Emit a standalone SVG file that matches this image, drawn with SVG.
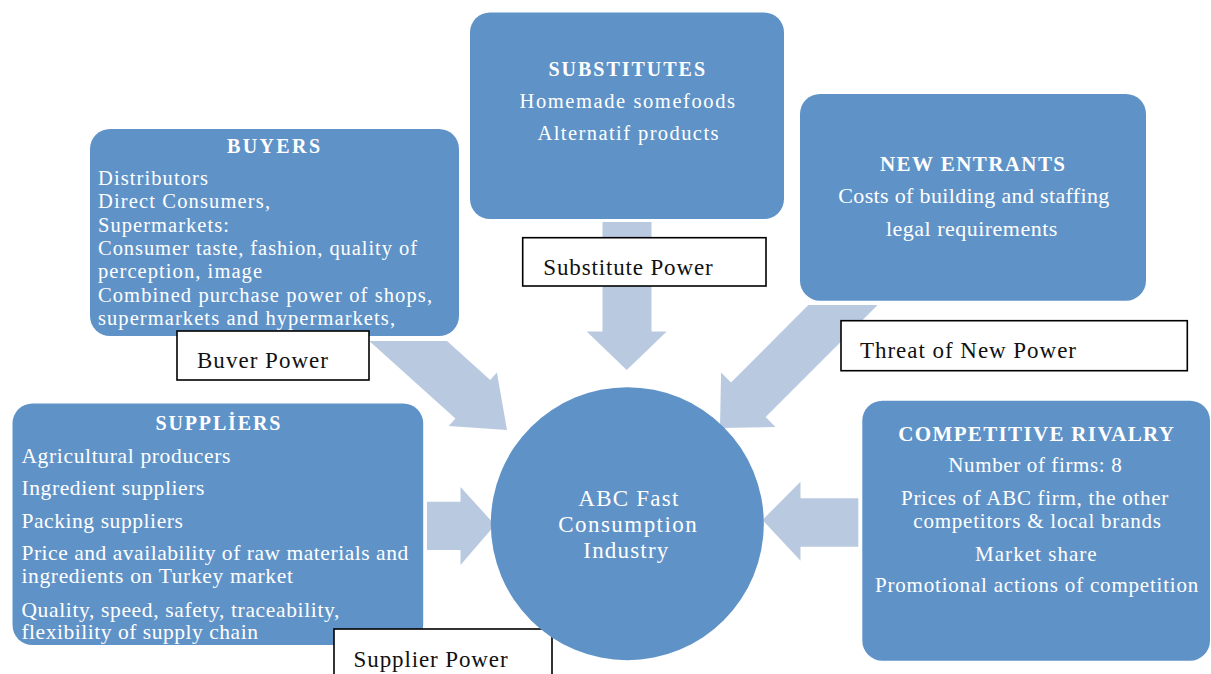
<svg xmlns="http://www.w3.org/2000/svg" width="1211" height="674" viewBox="0 0 1211 674">
<style>
.box{fill:#5f93c8;}
.arr{fill:#b9c9e0;}
.lbl{fill:#ffffff;stroke:#000000;stroke-width:1.6;}
.h{font-family:"Liberation Serif",serif;font-weight:bold;fill:#ffffff;}
.t{font-family:"Liberation Serif",serif;fill:#ffffff;}
.l{font-family:"Liberation Serif",serif;fill:#111111;font-size:23px;}
</style>
<rect width="1211" height="674" fill="#ffffff"/>
<g id="connectors">
<polygon class="arr" points="369.3,341 447,341 490.2,379.9 496.9,372.5 507,430 448.7,425.9 455.4,418.5"/>
<polygon class="arr" points="602.5,222 651.5,222 651.5,331.5 666.7,331.5 626.7,370 586.7,331.5 602.5,331.5"/>
<polygon class="arr" points="808.4,305 877.6,305 765.6,417 775.5,426.9 720,428 721.1,372.5 731,382.4"/>
<polygon class="arr" points="427,501.7 460.5,501.7 460.5,487 495,525 460.5,565 460.5,550 427,550"/>
<polygon class="arr" points="858.3,498.3 800.5,498.3 800.5,481.7 762.5,520 800.5,560.7 800.5,546.7 858.3,546.7"/>
</g>
<g id="buyers">
<rect class="box" x="90" y="129" width="369" height="207" rx="20"/>
<text class="h" font-size="20" x="227" y="153" textLength="93">BUYERS</text>
<text class="t" font-size="20.5" x="98" y="185" textLength="110">Distributors</text>
<text class="t" font-size="20.5" x="98" y="208" textLength="172">Direct Consumers,</text>
<text class="t" font-size="20.5" x="98" y="231.5" textLength="131">Supermarkets:</text>
<text class="t" font-size="20.5" x="98" y="254.5" textLength="319">Consumer taste, fashion, quality of</text>
<text class="t" font-size="20.5" x="98" y="278" textLength="164">perception, image</text>
<text class="t" font-size="20.5" x="98" y="301.5" textLength="334">Combined purchase power of shops,</text>
<text class="t" font-size="20.5" x="98" y="325" textLength="297">supermarkets and hypermarkets,</text>
</g>
<g id="buyer-power">
<rect class="lbl" x="177" y="331" width="192" height="49"/>
<text class="l" x="197" y="368" textLength="131">Buver Power</text>
</g>
<g id="substitutes">
<rect class="box" x="470" y="12.5" width="314" height="206.5" rx="20"/>
<text class="h" font-size="20" x="548.5" y="76" textLength="156.5">SUBSTITUTES</text>
<text class="t" font-size="20.5" x="519.5" y="107.5" textLength="215.5">Homemade somefoods</text>
<text class="t" font-size="20.5" x="537.5" y="140" textLength="181">Alternatif  products</text>
</g>
<g id="substitute-power">
<rect class="lbl" x="522.7" y="237.7" width="243.3" height="48.3"/>
<text class="l" x="543.3" y="275" textLength="169.4">Substitute Power</text>
</g>
<g id="new-entrants">
<rect class="box" x="800" y="94" width="346" height="206.7" rx="20"/>
<text class="h" font-size="21" x="880" y="170.7" textLength="185">NEW ENTRANTS</text>
<text class="t" font-size="22" x="838.3" y="203.3" textLength="271">Costs of building and staffing</text>
<text class="t" font-size="22" x="886" y="235.7" textLength="171.3">legal requirements</text>
</g>
<g id="new-power">
<rect class="lbl" x="841" y="320.7" width="346.3" height="50"/>
<text class="l" x="860" y="358.3" textLength="216">Threat of New Power</text>
</g>
<g id="suppliers">
<rect class="box" x="12.5" y="403.5" width="410.7" height="241.5" rx="20"/>
<text class="h" font-size="20" x="155.4" y="430" textLength="125">SUPPLİERS</text>
<text class="t" font-size="21.5" x="21.4" y="463.3" textLength="209">Agricultural producers</text>
<text class="t" font-size="21.5" x="21.4" y="495" textLength="183">Ingredient suppliers</text>
<text class="t" font-size="21.5" x="21.4" y="527.7" textLength="161.5">Packing suppliers</text>
<text class="t" font-size="21.5" x="21.4" y="560" textLength="386.8">Price and availability of raw materials and</text>
<text class="t" font-size="21.5" x="21.4" y="582.7" textLength="271.5">ingredients on Turkey market</text>
<text class="t" font-size="21.5" x="21.4" y="616.7" textLength="318">Quality, speed, safety, traceability,</text>
<text class="t" font-size="21.5" x="21.4" y="639.3" textLength="236.5">flexibility of supply chain</text>
</g>
<g id="supplier-power">
<rect class="lbl" x="334" y="629" width="218" height="50"/>
<text class="l" x="353.6" y="666.7" textLength="154">Supplier Power</text>
</g>
<g id="industry">
<circle class="box" cx="627.3" cy="523.7" r="136.5"/>
<text class="t" font-size="23" x="578.3" y="505.7" textLength="100">ABC Fast</text>
<text class="t" font-size="23" x="558.3" y="532.3" textLength="138.4">Consumption</text>
<text class="t" font-size="23" x="583.3" y="557.7" textLength="85">Industry</text>
</g>
<g id="rivalry">
<rect class="box" x="862.3" y="400.7" width="347.7" height="260" rx="20"/>
<text class="h" font-size="21" x="898.3" y="440.7" textLength="275.7">COMPETITIVE RIVALRY</text>
<text class="t" font-size="21" x="948.3" y="472.3" textLength="173.4">Number of firms: 8</text>
<text class="t" font-size="21" x="901" y="505" textLength="267.3">Prices of ABC firm, the other</text>
<text class="t" font-size="21" x="913.3" y="528.3" textLength="247.7">competitors &amp; local brands</text>
<text class="t" font-size="21" x="975" y="560.7" textLength="121.7">Market share</text>
<text class="t" font-size="21" x="875" y="592.3" textLength="323.3">Promotional actions of competition</text>
</g>
</svg>
